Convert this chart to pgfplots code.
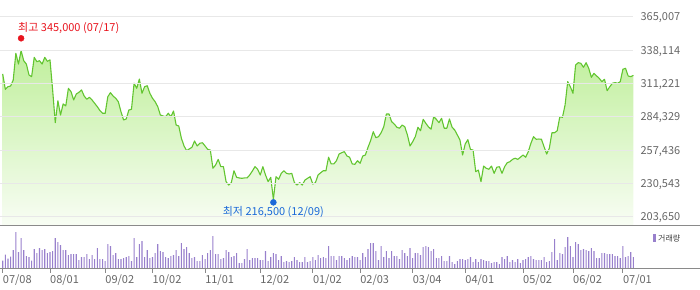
\documentclass[border=0pt]{standalone}
\usepackage{fontspec}
\setmainfont{Noto Sans CJK KR}
\usepackage{pgfplots}
\usepackage{pgfplotstable}
\pgfplotsset{compat=1.18}
\definecolor{linegreen}{HTML}{62C530}
\definecolor{filltop}{HTML}{C0EF9C}
\definecolor{fillbot}{HTML}{F8FDF4}
\definecolor{gridgray}{HTML}{E8E8E8}
\definecolor{axisgray}{HTML}{8A8A8A}
\definecolor{labelgray}{HTML}{666666}
\definecolor{volpurple}{HTML}{9880CC}
\definecolor{hired}{HTML}{E8141E}
\definecolor{loblue}{HTML}{1C6AD8}

\pgfplotstableread{
x y
0 318800
1 306400
2 308500
3 309100
4 313900
5 335500
6 326800
7 337600
8 329500
9 326800
10 318000
11 316600
12 332200
13 328700
14 329500
15 326800
16 332200
17 329000
18 330100
19 305900
20 279500
21 297200
22 285700
23 294600
24 293000
25 307200
26 304500
27 297800
28 302600
29 304000
30 305900
31 301000
32 298400
33 300000
34 297800
35 295100
36 292400
37 289200
38 287100
39 287100
40 300500
41 303700
42 301000
43 299200
44 296400
45 288400
46 281700
47 282500
48 289700
49 290300
50 311300
51 307200
52 314700
53 303200
54 308500
55 309300
56 303200
57 299200
58 296400
59 292400
60 285700
61 284900
62 284300
63 287100
64 284300
65 288900
66 277600
67 276800
68 266900
69 260700
70 256900
71 258300
72 259600
73 264700
74 260700
75 262900
76 263300
77 260700
78 258000
79 257400
80 242700
81 245300
82 249900
83 244000
84 244000
85 231900
86 229200
87 231100
88 240700
89 235400
90 234900
91 234600
92 234900
93 234900
94 237300
95 240500
96 244000
97 241900
98 237300
99 244000
100 237300
101 231900
102 235400
103 217700
104 235900
105 233800
106 238600
107 240700
108 238600
109 238100
110 238600
111 231100
112 229200
113 231100
114 229200
115 233200
116 234600
117 235900
118 230000
119 231100
120 237300
121 239100
122 240700
123 240700
124 251600
125 246200
126 246200
127 248800
128 254200
129 255300
130 256100
131 252600
132 251600
133 246200
134 245900
135 248800
136 246700
137 252600
138 253400
139 259600
140 265000
141 272200
142 267400
143 268200
144 271400
145 276200
146 286500
147 286500
148 280300
149 278400
150 275800
151 275000
152 277600
153 276200
154 269600
155 260700
156 264100
157 268200
158 275800
159 273000
160 282200
161 279000
162 276200
163 274200
164 284300
165 282200
166 279500
167 283000
168 275000
169 275000
170 282500
171 275800
172 273600
173 269600
174 265500
175 253400
176 262300
177 265800
178 257900
179 257400
180 239900
181 241300
182 231900
183 244500
184 242700
185 241900
186 244500
187 238600
188 243500
189 244000
190 238600
191 244000
192 247200
193 248000
194 249900
195 250800
196 249900
197 251600
198 253400
199 251600
200 256100
201 262900
202 268200
203 266100
204 266300
205 266100
206 260100
207 254200
208 258800
209 271400
210 271400
211 273000
212 284300
213 283800
214 293800
215 312600
216 308500
217 303200
218 326000
219 327900
220 327400
221 324200
222 327900
223 323400
224 316100
225 319300
226 317200
227 315300
228 312600
229 314500
230 305300
231 308500
232 311300
233 311800
234 311300
235 312600
236 322600
237 323400
238 317200
239 316600
240 317700
}\price

\pgfplotstableread{
x v
0 22
1 40
2 28
3 34
4 54
5 108
6 48
7 90
8 54
9 36
10 33
11 22
12 57
13 45
14 60
15 54
16 57
17 45
18 48
19 51
20 90
21 78
22 69
23 54
24 54
25 39
26 42
27 42
28 42
29 24
30 33
31 33
32 42
33 27
34 39
35 27
36 60
37 27
38 27
39 21
40 72
41 66
42 39
43 45
44 27
45 27
46 30
47 33
48 36
49 21
50 90
51 33
52 72
53 81
54 33
55 54
56 30
57 33
58 45
59 72
60 51
61 48
62 33
63 30
64 36
65 39
66 54
67 36
68 75
69 57
70 63
71 45
72 30
73 33
74 21
75 21
76 39
77 27
78 45
79 54
80 96
81 42
82 42
83 27
84 30
85 54
86 48
87 33
88 36
89 45
90 15
91 15
92 27
93 57
94 24
95 30
96 30
97 30
98 24
99 24
100 51
101 21
102 33
103 45
104 42
105 24
106 36
107 18
108 21
109 18
110 21
111 33
112 24
113 18
114 18
115 33
116 18
117 21
118 33
119 24
120 39
121 30
122 33
123 30
124 66
125 36
126 36
127 24
128 36
129 36
130 30
131 24
132 30
133 36
134 33
135 33
136 24
137 45
138 33
139 57
140 75
141 75
142 51
143 24
144 66
145 33
146 51
147 30
148 51
149 36
150 36
151 27
152 54
153 45
154 36
155 60
156 30
157 45
158 45
159 39
160 63
161 66
162 63
163 51
164 57
165 30
166 30
167 36
168 21
169 21
170 36
171 18
172 12
173 21
174 27
175 27
176 24
177 27
178 33
179 18
180 27
181 18
182 27
183 24
184 21
185 21
186 15
187 18
188 18
189 12
190 33
191 27
192 36
193 18
194 24
195 18
196 27
197 15
198 24
199 27
200 33
201 36
202 27
203 24
204 24
205 24
206 33
207 18
208 21
209 48
210 87
211 24
212 45
213 42
214 63
215 93
216 66
217 33
218 78
219 72
220 54
221 57
222 54
223 51
224 60
225 51
226 30
227 30
228 45
229 45
230 42
231 42
232 42
233 36
234 36
235 30
236 66
237 33
238 36
239 48
240 33
}\vol

\begin{document}
\begin{tikzpicture}[x=1pt,y=1pt]
\useasboundingbox (0pt,0pt) rectangle (700pt,289pt);
\begin{axis}[
  at={(0pt,64pt)}, anchor=south west, scale only axis,
  width=633.4pt, height=225pt,
  xmin=-1.03, xmax=240, ymin=196930, ymax=378482,
  axis line style={draw=none},
  xtick=\empty,
  minor xtick={18,39,57,77,98,118,136,156,176,198,217,236},
  xminorgrids, ymajorgrids,
  grid style={color=gridgray, line width=0.9pt},
  minor grid style={color=gridgray, line width=0.9pt},
  ytick={203650,230543,257436,284329,311221,338114,365007},
  yticklabels={{203,650},{230,543},{257,436},{284,329},{311,221},{338,114},{365,007}},
  major tick length=0pt, minor tick length=0pt,
  yticklabel pos=right,
  yticklabel style={anchor=west, inner sep=0pt, xshift=7pt, text height=8pt, text depth=0pt, font=\fontsize{11}{12}\selectfont, text=labelgray},
  axis on top,
  clip=false,
]
\addplot[draw=none, top color=filltop, bottom color=fillbot] table[x=x,y=y]{\price} \closedcycle;
\addplot[color=linegreen, line width=1.1pt, line join=round] table[x=x,y=y]{\price};
\addplot[only marks, mark=*, mark size=3pt, color=hired, mark options={yshift=3.2pt}] coordinates {(7,345000)};
\addplot[only marks, mark=*, mark size=3pt, color=loblue, mark options={yshift=-1.6pt}] coordinates {(103,216500)};
\coordinate (hipt) at (axis cs:7,345000);
\coordinate (lopt) at (axis cs:103,216500);
\end{axis}
\node[anchor=west, inner sep=0pt, text=hired, font=\fontsize{11}{12}\selectfont, text height=8pt, text depth=1pt, xshift=-3.1pt, yshift=13.8pt] at (hipt) {최고 345,000 (07/17)};
\node[anchor=center, inner sep=0pt, text=loblue, font=\fontsize{11}{12}\selectfont, text height=8pt, text depth=1pt, yshift=-11.3pt] at (lopt) {최저 216,500 (12/09)};
\begin{axis}[
  at={(0pt,21pt)}, anchor=south west, scale only axis,
  width=633.4pt, height=43pt,
  xmin=-1.03, xmax=240, ymin=0, ymax=129,
  axis line style={draw=none},
  ytick=\empty,
  xtick={0,18,39,57,77,98,118,136,156,176,198,217,236},
  xticklabels={07/08,08/01,09/02,10/02,11/01,12/02,01/02,02/03,03/04,04/01,05/02,06/02,07/01},
  xtick pos=bottom, tick align=outside, major tick length=4.5pt,
  tick style={color=axisgray, line width=0.8pt},
  xticklabel style={anchor=north west, inner sep=0pt, text height=8pt, text depth=0pt, yshift=-2.8pt, font=\fontsize{11}{12}\selectfont, text=labelgray},
  clip=false,
]
\addplot[ybar, bar width=1.1pt, fill=volpurple, draw=none] table[x=x,y=v]{\vol};
\end{axis}
\draw[axisgray, line width=0.9pt] (0pt,64pt) -- (700pt,64pt);
\draw[axisgray, line width=0.9pt] (0pt,21pt) -- (700pt,21pt);
\node[anchor=west, inner sep=0pt, font=\fontsize{8}{9}\selectfont, text=black!75] at (653pt,51pt) {\textcolor{volpurple}{\rule{3pt}{8pt}}\hspace{2pt}거래량};
\end{tikzpicture}
\end{document}
